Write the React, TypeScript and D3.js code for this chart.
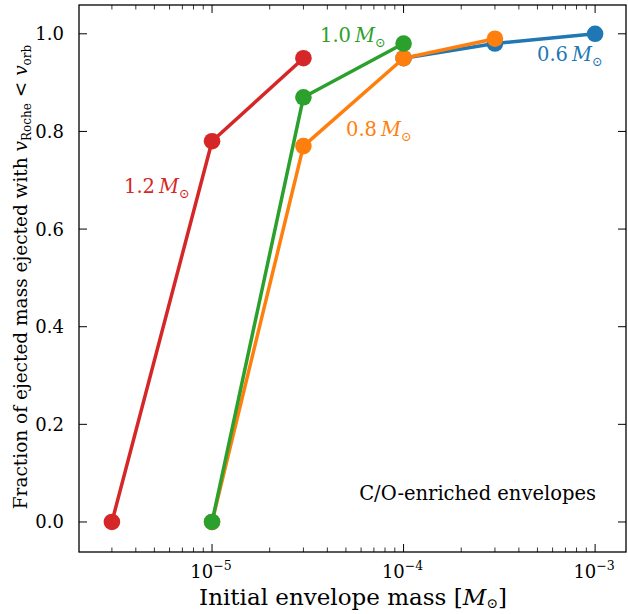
import React from "react";
import * as d3 from "d3";

const series06 = { label: "0.6", color: "#1f77b4", x: [1e-4, 3e-4, 1e-3], y: [0.95, 0.98, 1.0] };
const series08 = { label: "0.8", color: "#ff7f0e", x: [1e-5, 3e-5, 1e-4, 3e-4], y: [0.0, 0.77, 0.95, 0.99] };
const series10 = { label: "1.0", color: "#2ca02c", x: [1e-5, 3e-5, 1e-4], y: [0.0, 0.87, 0.98] };
const series12 = { label: "1.2", color: "#d62728", x: [3e-6, 1e-5, 3e-5], y: [0.0, 0.78, 0.95] };
const allSeries = [series06, series08, series10, series12];
const yTicks = [0, 0.2, 0.4, 0.6, 0.8, 1.0];
const xMajor = [-5, -4, -3];

const W = 628, H = 614;
const L = 79, R = 626, T = 5, B = 552;
const FONT = "DejaVu Serif";
const ts = (size: number): React.CSSProperties => ({ fontFamily: FONT, fontSize: size });

export default function App() {
  const x = d3.scaleLog().domain([2.02e-6, 1.45e-3]).range([L, R]);
  const y = d3.scaleLinear().domain([-0.0615, 1.059]).range([B, T]);
  const line = d3.line<[number, number]>().x(d => x(d[0])).y(d => y(d[1]));

  const minors: number[] = [];
  for (let e = -6; e <= -3; e++) {
    for (let m = 2; m <= 9; m++) {
      const v = m * Math.pow(10, e);
      if (v >= 2.02e-6 && v <= 1.45e-3) minors.push(v);
    }
  }

  const sun = (x0: number, y0: number, label: string, color: string) => (
    <text x={x0} y={y0} fill={color} style={ts(19.5)}>
      {label}
      <tspan dx={4} fontStyle="italic">M</tspan>
      <tspan dy={5} style={ts(13)}>⊙</tspan>
    </text>
  );

  return (
    <svg width={W} height={H} style={{ position: "absolute", left: 0, top: 0, background: "#fff" }}>
      <rect x={0} y={0} width={W} height={H} fill="#fff" />
      {allSeries.map(s => {
        const pts = s.x.map((v, i) => [v, s.y[i]] as [number, number]);
        return (
          <g key={s.label}>
            <path d={line(pts) || ""} fill="none" stroke={s.color} strokeWidth={3.5} strokeLinejoin="round" />
            {pts.map((p, i) => (
              <circle key={i} cx={x(p[0])} cy={y(p[1])} r={8.3} fill={s.color} />
            ))}
          </g>
        );
      })}
      <rect x={L} y={T} width={R - L} height={B - T} fill="none" stroke="#000" strokeWidth={1.3} />
      {xMajor.map(e => {
        const px = x(Math.pow(10, e));
        return (
          <g key={e}>
            <line x1={px} x2={px} y1={B} y2={B - 8} stroke="#000" strokeWidth={1} />
            <line x1={px} x2={px} y1={T} y2={T + 8} stroke="#000" strokeWidth={1} />
            <text x={px - 1} y={578} style={ts(18)} textAnchor="middle" fill="#000">
              10<tspan dy={-8} style={ts(12.5)}>{"\u2212" + (-e)}</tspan>
            </text>
          </g>
        );
      })}
      {minors.map((v, i) => {
        const px = x(v);
        return (
          <g key={i}>
            <line x1={px} x2={px} y1={B} y2={B - 4.5} stroke="#000" strokeWidth={0.8} />
            <line x1={px} x2={px} y1={T} y2={T + 4.5} stroke="#000" strokeWidth={0.8} />
          </g>
        );
      })}
      {yTicks.map(t => {
        const py = y(t);
        return (
          <g key={t}>
            <line x1={L} x2={L + 8} y1={py} y2={py} stroke="#000" strokeWidth={1} />
            <line x1={R} x2={R - 8} y1={py} y2={py} stroke="#000" strokeWidth={1} />
            <text x={64} y={py + 6.5} style={ts(18)} textAnchor="end" fill="#000">
              {t.toFixed(1)}
            </text>
          </g>
        );
      })}
      <text x={353} y={605} style={ts(23)} textAnchor="middle" fill="#000">
        Initial envelope mass [<tspan fontStyle="italic">M</tspan>
        <tspan dy={3} style={ts(14)}>⊙</tspan>
        <tspan dy={-3}>]</tspan>
      </text>
      <text transform="translate(27,277) rotate(-90)" style={ts(18.5)} textAnchor="middle" fill="#000">
        Fraction of ejected mass ejected with <tspan fontStyle="italic">v</tspan>
        <tspan dy={4} style={ts(12)}>Roche</tspan>
        <tspan dy={-4}> {"<"} </tspan>
        <tspan fontStyle="italic">v</tspan>
        <tspan dy={4} style={ts(12)}>orb</tspan>
      </text>
      {sun(124, 193, "1.2", series12.color)}
      {sun(320, 42, "1.0", series10.color)}
      {sun(346, 136, "0.8", series08.color)}
      {sun(537, 61, "0.6", series06.color)}
      <text x={596} y={500} style={ts(19.5)} textAnchor="end" fill="#000">
        C/O-enriched envelopes
      </text>
    </svg>
  );
}
